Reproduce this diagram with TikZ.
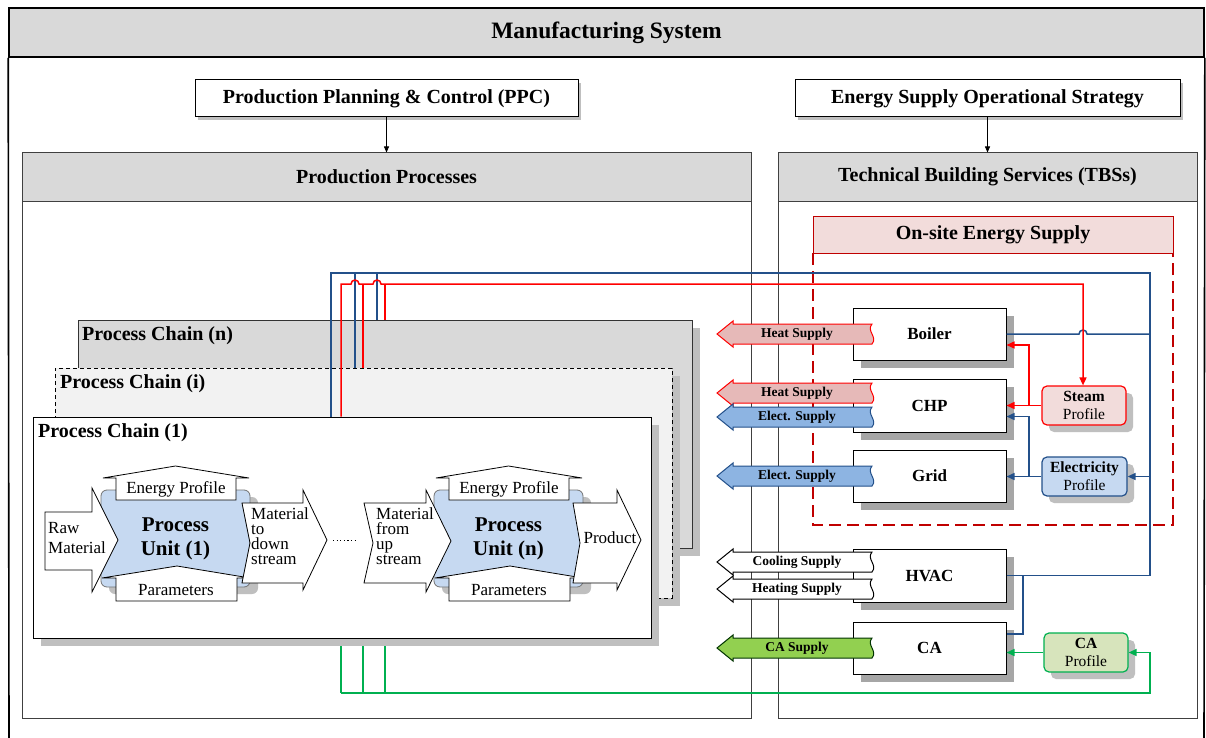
\documentclass[tikz,border=0pt]{standalone}
\usepackage{fontspec}
\setmainfont{Liberation Serif}
\usetikzlibrary{arrows.meta,calc,shadows}
\definecolor{hdr}{HTML}{D9D9D9}
\definecolor{shd}{HTML}{BFBFBF}
\definecolor{shdB}{HTML}{A6A6A6}
\definecolor{chi}{HTML}{F2F2F2}
\definecolor{ublue}{HTML}{C6D9F1}
\definecolor{lblue}{HTML}{23508A}
\definecolor{heatf}{HTML}{E6B9B8}
\definecolor{elecf}{HTML}{8DB4E2}
\definecolor{caf}{HTML}{92D050}
\definecolor{lgreen}{HTML}{00B050}
\definecolor{steamf}{HTML}{F2DCDB}
\definecolor{caprf}{HTML}{D7E4BC}
\definecolor{dred}{HTML}{C00000}
\definecolor{lred}{HTML}{FF0000}
\tikzset{
  ttl/.style={font=\fontsize{23.5}{28}\selectfont\bfseries},
  hd/.style={font=\fontsize{20}{24}\selectfont\bfseries},
  ut/.style={font=\fontsize{21}{24}\selectfont\bfseries},
  sm/.style={font=\fontsize{17}{20}\selectfont},
  smt/.style={font=\fontsize{17}{15}\selectfont},
  bx/.style={font=\fontsize{17}{20}\selectfont\bfseries},
  pf/.style={font=\fontsize{15.5}{18}\selectfont},
  sp/.style={font=\fontsize{13.5}{16}\selectfont\bfseries, inner sep=0pt},
  topbox/.style={draw=black, line width=1pt, fill=white, hd, inner sep=0pt,
     drop shadow={shadow xshift=3pt, shadow yshift=-3pt, fill=shd, opacity=1}},
  hdrbox/.style={draw=black!75, line width=1pt, fill=hdr, hd, inner sep=0pt},
  frame/.style={draw=black!75, line width=1pt},
  unitbox/.style={draw=black!55, line width=0.8pt, fill=ublue, rounded corners=6pt,
     minimum width=149pt, minimum height=97pt, ut, align=center, inner sep=0pt,
     drop shadow={shadow xshift=8pt, shadow yshift=-7pt, fill=shd, opacity=1}},
  arr/.style={draw=black, line width=0.8pt, fill=white},
  tbs/.style={draw=black, line width=1pt, fill=white, bx, minimum width=153pt, inner sep=0pt,
     drop shadow={shadow xshift=8pt, shadow yshift=-8pt, fill=shdB, opacity=1}},
  prof/.style={line width=1.2pt, rounded corners=5pt, pf, align=center, inner sep=0pt,
     minimum width=84pt, minimum height=39pt,
     drop shadow={shadow xshift=7pt, shadow yshift=-7pt, fill=shd, opacity=1}},
  chainbox/.style={line width=1pt, inner sep=0pt,
     drop shadow={shadow xshift=8pt, shadow yshift=-8pt, fill=shd, opacity=1}},
  bl/.style={draw=lblue, line width=1.5pt},
  rd/.style={draw=lred, line width=1.5pt},
  gr/.style={draw=lgreen, line width=1.5pt},
  arrowend/.style={-{Triangle[length=8pt,width=7pt]}},
}
\newcommand{\SupArrow}[5]{%
  \draw[draw=#4, fill=#3, line width=1pt] (717,#2) -- (733,#2-13) -- (733,#2-10) -- (872,#2-10)
     .. controls (866,#2-3) and (878,#2+3) .. (872,#2+10) -- (733,#2+10) -- (733,#2+13) -- cycle;
  \node[sp] (#1) at (797,#2) {#5};}
\newcommand{\UnitCore}[2]{%
  \node[unitbox] (#1) at (175.5,538.5) {Process\\#2};
  \draw[arr] (116,500) -- (116,478) -- (103,478) -- (175.5,466) -- (249,478) -- (236,478) -- (236,500) -- cycle;
  \node[sm, inner sep=0pt] (#1ep) at (176,489) {Energy Profile};
  \draw[arr] (116,601) -- (116,578) -- (102,578) -- (177,566) -- (250,578) -- (237,578) -- (237,601) -- cycle;
  \node[sm, inner sep=0pt] (#1pa) at (176,590) {Parameters};}
\begin{document}
\begin{tikzpicture}[x=1pt,y=-1pt]
\useasboundingbox (0,0) rectangle (1206,738);
\fill[white] (0,0) rectangle (1206,738);

% ---------- outer frame ----------
\node[draw=black, line width=1.6pt, fill=hdr, minimum width=1195pt, minimum height=49pt, ttl, inner sep=0pt] (ms) at (606.5,32.5) {Manufacturing System};
\draw[line width=1.6pt] (ms.south west) -- (9,738);
\draw[line width=1.6pt] (ms.south east) -- (1204,738);

% ---------- top boxes ----------
\node[topbox, minimum width=383pt, minimum height=37pt] (ppc) at (386.5,98.5) {Production Planning \& Control (PPC)};
\node[topbox, minimum width=385pt, minimum height=37pt] (esos) at (987.5,98.5) {Energy Supply Operational Strategy};

% ---------- frames ----------
\draw[frame] (22,201) rectangle (751,718);
\node[hdrbox, minimum width=729pt, minimum height=48pt] (pph) at (386.5,177) {Production Processes};
\draw[frame] (778,201) rectangle (1197,718);
\node[hdrbox, minimum width=419pt, minimum height=48pt] (tbsh) at (987.5,177) {Technical Building Services (TBSs)};
\draw[line width=0.8pt, -{Triangle[length=6pt,width=5pt]}] (ppc.south) -- (pph.north);
\draw[line width=0.8pt, -{Triangle[length=6pt,width=5pt]}] (esos.south) -- (tbsh.north);

% ---------- bus coordinates ----------
\coordinate (bA) at (331,273); \coordinate (bB) at (355,273); \coordinate (bC) at (377,273); \coordinate (bR) at (1150,273);
\coordinate (rA) at (341,284); \coordinate (rB) at (363,284); \coordinate (rC) at (385,284); \coordinate (rR) at (1083,284);
\coordinate (gA) at (341,693); \coordinate (gR) at (1150,693);

% ---------- process chains ----------
\node[chainbox, draw=black!80, fill=hdr, minimum width=614pt, minimum height=228pt] (chainN) at (385,434) {};
\node[chainbox, draw=black, fill=chi, dash pattern=on 4pt off 3pt, minimum width=617pt, minimum height=230pt] (chainI) at (363.5,483) {};
% green lines (behind the front chain)
\draw[gr] (rB |- chainI.south) -- (rB |- gA);
\draw[gr] (rC |- chainN.south) -- (rC |- gA);
\draw[gr] (rA |- chainI.south) -- (gA);
\node[chainbox, draw=black, fill=white, minimum width=618pt, minimum height=221pt] (chain1) at (342,527.5) {};
\node[hd, anchor=west, inner sep=0pt] (cnl) at (82,336) {Process Chain (n)};
\node[hd, anchor=west, inner sep=0pt] (cil) at (60,384) {Process Chain (i)};
\node[hd, anchor=west, inner sep=0pt] (c1l) at (38,433) {Process Chain (1)};

% ---------- process unit (1) ----------
\UnitCore{uone}{Unit (1)}
\draw[arr] (45,512) -- (92,512) -- (92,488) -- (118,540) -- (92,592) -- (92,570) -- (45,570) -- cycle;
\node[sm, align=left, anchor=west, inner sep=1pt] (rawt) at (47,538) {Raw\\Material};
\draw[arr] (242,503) -- (303,503) -- (303,490) -- (327,540) -- (303,590) -- (303,583) -- (242,583) -- (250,543) -- cycle;
\node[smt, align=left, anchor=west, inner sep=1pt] (mdt) at (250,536) {Material\\to\\down\\stream};
\coordinate (dotL) at (333,540); \coordinate (dotR) at (357,540);
\draw[line width=1pt, dash pattern=on 1.2pt off 2.4pt] (dotL) -- (dotR);

% ---------- process unit (n) ----------
\begin{scope}[xshift=333pt]
\UnitCore{un}{Unit (n)}
\end{scope}
\draw[arr] (364,503) -- (426,503) -- (426,490) -- (451,541) -- (426,592) -- (426,583) -- (364,583) -- (373,543) -- cycle;
\node[smt, align=left, anchor=west, inner sep=1pt] (mut) at (375,536) {Material\\from\\up\\stream};
\draw[arr] (573,503) -- (617,503) -- (617,490) -- (641,540) -- (617,590) -- (617,583) -- (573,583) -- (580,543) -- cycle;
\node[sm, inner sep=0pt] (prt) at (610,538) {Product};

% ---------- on-site energy supply ----------
\draw[dred, line width=1.5pt, dash pattern=on 12pt off 6pt] (813,253) -- (813,525) -- (1173,525) -- (1173,253);
\node[draw=dred, line width=1pt, fill=steamf, hd, minimum width=360pt, minimum height=37pt, inner sep=0pt] (osh) at (993,234.5) {On-site Energy Supply};

% ---------- TBS boxes ----------
\node[tbs, minimum height=52pt] (boiler) at (929.5,334) {Boiler};
\node[tbs, minimum height=53pt] (chp) at (929.5,405.5) {CHP};
\node[tbs, minimum height=52pt] (grid) at (929.5,476) {Grid};
\node[tbs, minimum height=53pt] (hvac) at (929.5,575.5) {HVAC};
\node[tbs, minimum height=52pt] (ca) at (929.5,648) {CA};
\node[prof, draw=lred, fill=steamf] (steam) at (1084,405.5) {\textbf{Steam}\\Profile};
\node[prof, draw=lblue, fill=ublue, minimum width=85pt] (elec) at (1084.5,476.5) {\textbf{Electricity}\\Profile};
\node[prof, draw=lgreen, fill=caprf] (caprof) at (1086,652.5) {\textbf{CA}\\Profile};

% ---------- blue network ----------
\draw[bl] (hvac.east) -| (bR) -- (bA) -- (bA |- chain1.north);
\draw[bl] (bB) -- (bB |- chainI.north);
\draw[bl] (bC) -- (bC |- chainN.north);
\draw[bl] (bR |- boiler.east) -- (1087,334) arc[start angle=0, end angle=-180, radius=4] -- (boiler.east);
\draw[bl, arrowend] (bR |- elec.east) -- (elec.east);
\coordinate (jE) at (1029,476.5);
\draw[bl, arrowend] (elec.west) -- (elec.west -| grid.east);
\draw[bl, arrowend] (jE) |- ([yshift=-11pt]chp.east);
\coordinate (jH) at (1023,575.5);
\draw[bl] (jH) |- ([yshift=14pt]ca.east);

% ---------- red network ----------
\draw[rd, arrowend] (rA |- chain1.north) -- (rA) -- (351,284) arc[start angle=180, end angle=360, radius=4]
   -- (373,284) arc[start angle=180, end angle=360, radius=4] -- (rR) -- (rR |- steam.north);
\draw[rd] (rB) -- (rB |- chainI.north);
\draw[rd] (rC) -- (rC |- chainN.north);
\coordinate (jS) at (1029,405.5);
\draw[rd, arrowend] (steam.west) -- (chp.east);
\draw[rd, arrowend] (jS) |- ([yshift=-11pt]boiler.east);

% ---------- green network ----------
\draw[gr, arrowend] (gA) -- (gR) |- (caprof.east);
\draw[gr, arrowend] (caprof.west) -- (caprof.west -| ca.east);

% ---------- supply arrows ----------
\SupArrow{hs1}{334}{heatf}{lred}{Heat Supply}
\SupArrow{hs2}{393}{heatf}{lred}{Heat Supply}
\SupArrow{es1}{417}{elecf}{lblue}{Elect. Supply}
\SupArrow{es2}{476}{elecf}{lblue}{Elect. Supply}
\SupArrow{cs}{562}{white}{black}{Cooling Supply}
\SupArrow{hts}{589}{white}{black}{Heating Supply}
\SupArrow{cas}{648}{caf}{black!80!green}{CA Supply}
\end{tikzpicture}
\end{document}
